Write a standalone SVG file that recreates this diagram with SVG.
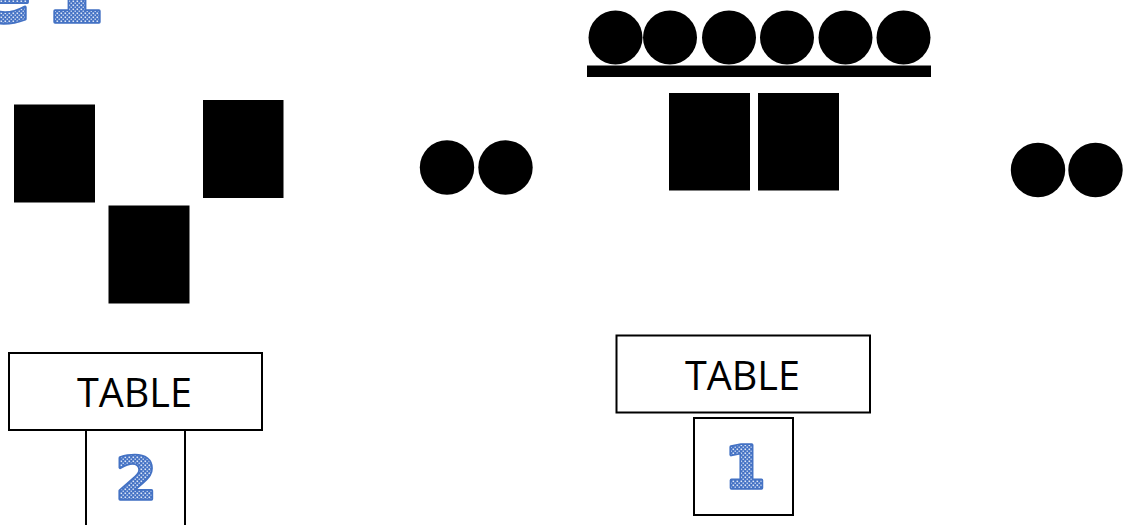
<svg xmlns="http://www.w3.org/2000/svg" width="1124" height="525" viewBox="0 0 1124 525">
  <defs>
    <pattern id="dots" width="4" height="4" patternUnits="userSpaceOnUse">
      <rect width="4" height="4" fill="#4472c4"/>
      <rect x="0.5" y="0.5" width="1.6" height="1.6" fill="#dfe7f7"/>
      <rect x="2.5" y="2.5" width="1.6" height="1.6" fill="#b9cbee"/>
    </pattern>
  </defs>
  <style>
    .blk { fill: #000; }
    .box { fill: #fff; stroke: #000; stroke-width: 2; }
    .lbl { font-family: "Open Sans", "Liberation Sans", sans-serif; font-size: 41px; fill: #000; text-anchor: middle; }
    .num { font-family: "DejaVu Sans", "Liberation Sans", sans-serif; font-weight: bold; fill: url(#dots); stroke: #4472c4; stroke-width: 3.5; stroke-linejoin: round; paint-order: stroke; }
  </style>
  <rect width="1124" height="525" fill="#fff"/>

  <g id="title">
    <text class="num" y="22" font-size="86"><tspan x="-27">e</tspan><tspan x="45">1</tspan></text>
  </g>

  <g id="left-blocks">
    <rect class="blk" x="14" y="104.5" width="81" height="98"/>
    <rect class="blk" x="203" y="100" width="80.5" height="98"/>
    <rect class="blk" x="108.5" y="205.5" width="81" height="98"/>
  </g>

  <g id="mid-balls">
    <circle class="blk" cx="447" cy="167.5" r="27.2"/>
    <circle class="blk" cx="505.5" cy="167.5" r="27.2"/>
  </g>

  <g id="stack">
    <circle class="blk" cx="615.5" cy="37.5" r="27"/>
    <circle class="blk" cx="670" cy="37.5" r="27"/>
    <circle class="blk" cx="729" cy="37.5" r="27"/>
    <circle class="blk" cx="787" cy="37.5" r="27"/>
    <circle class="blk" cx="845.5" cy="37.5" r="27"/>
    <circle class="blk" cx="903.5" cy="37.5" r="27"/>
    <rect class="blk" x="587" y="65.5" width="344" height="11.5"/>
    <rect class="blk" x="669" y="93" width="81" height="97.5"/>
    <rect class="blk" x="758" y="93" width="81" height="97.5"/>
  </g>

  <g id="right-balls">
    <circle class="blk" cx="1038" cy="170" r="27.2"/>
    <circle class="blk" cx="1095.5" cy="170" r="27.2"/>
  </g>

  <g id="table2">
    <rect class="box" x="86" y="430" width="99" height="100"/>
    <rect class="box" x="9" y="353" width="253" height="77"/>
    <text class="lbl" x="134.5" y="406.7" textLength="115" lengthAdjust="spacingAndGlyphs">TABLE</text>
    <text class="num" x="136" y="499" font-size="59" text-anchor="middle">2</text>
  </g>

  <g id="table1">
    <rect class="box" x="616.5" y="335.5" width="253.5" height="77"/>
    <text class="lbl" x="742.5" y="390" textLength="115" lengthAdjust="spacingAndGlyphs">TABLE</text>
    <rect class="box" x="694" y="418" width="99" height="97"/>
    <text class="num" x="745" y="488" font-size="59" text-anchor="middle">1</text>
  </g>

  <g id="connectors"/>
</svg>
